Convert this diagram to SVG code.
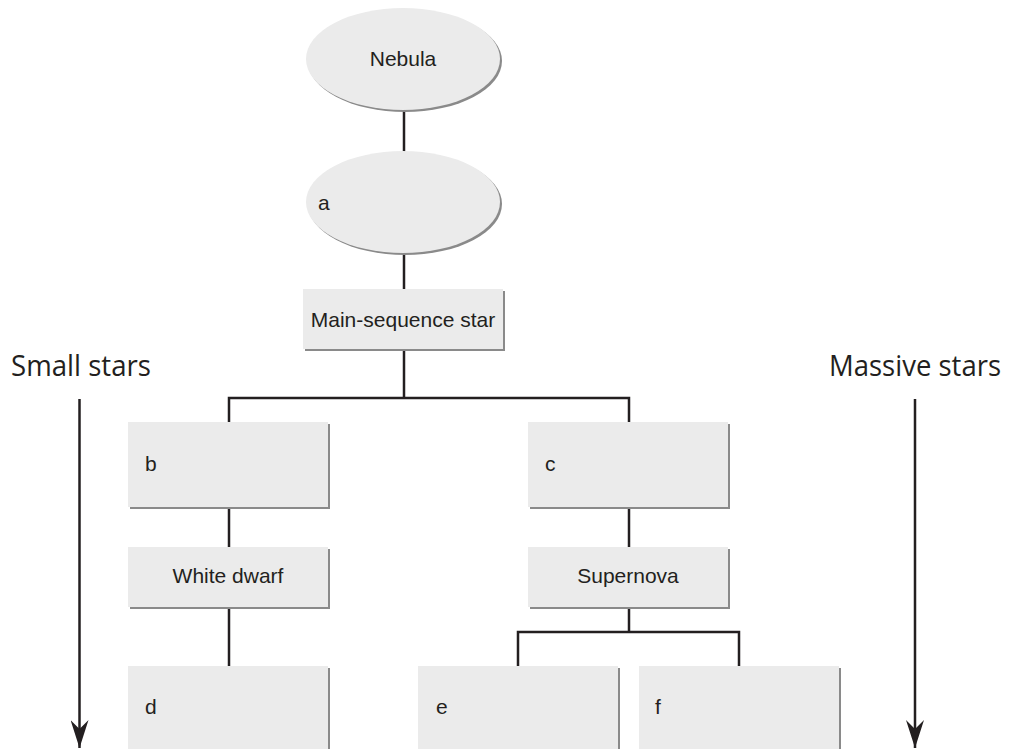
<svg xmlns="http://www.w3.org/2000/svg" width="1016" height="749" viewBox="0 0 1016 749">
<defs>
<style>
.sh{fill:#8a8a8a}
.nd{fill:#ebebeb}
.t{font-family:"Liberation Sans",Arial,sans-serif;font-size:21px;fill:#231f20}
.big{font-family:"Open Sans","Noto Sans",sans-serif;font-size:29px;fill:#231f20}
.ln{stroke:#231f20;stroke-width:2.5;fill:none}
</style>
<marker id="ah" markerWidth="28" markerHeight="18" viewBox="0 0 28 18" refX="28" refY="9" orient="auto" markerUnits="userSpaceOnUse">
<path d="M0,0 L28,9 L0,18 L9,9 Z" fill="#231f20"/>
</marker>
</defs>
<rect width="1016" height="749" fill="#fff"/>
<g id="connectors">
<line class="ln" x1="404" y1="108" x2="404" y2="154"/>
<line class="ln" x1="404" y1="250" x2="404" y2="290"/>
<polyline class="ln" points="404,348 404,398"/>
<polyline class="ln" points="229,423 229,398 629,398 629,423"/>
<line class="ln" x1="229" y1="506" x2="229" y2="548"/>
<line class="ln" x1="229" y1="606" x2="229" y2="666"/>
<line class="ln" x1="629" y1="506" x2="629" y2="548"/>
<polyline class="ln" points="629,606 629,632"/>
<polyline class="ln" points="518,666 518,632 739,632 739,666"/>
<line class="ln" x1="79.5" y1="399" x2="79.5" y2="748" marker-end="url(#ah)"/>
<line class="ln" x1="915" y1="399" x2="915" y2="748" marker-end="url(#ah)"/>
</g>
<g id="nebula">
<ellipse class="sh" cx="405" cy="61" rx="97" ry="51"/>
<ellipse class="nd" cx="403" cy="59" rx="97" ry="51"/>
<text class="t" x="403" y="66" text-anchor="middle">Nebula</text>
</g>
<g id="a">
<ellipse class="sh" cx="405" cy="204" rx="97" ry="51"/>
<ellipse class="nd" cx="403" cy="202" rx="97" ry="51"/>
<text class="t" x="318" y="210">a</text>
</g>
<g id="main-sequence">
<rect class="sh" x="305" y="291" width="200" height="60"/>
<rect class="nd" x="303" y="289" width="200" height="60"/>
<text class="t" x="403" y="327" text-anchor="middle">Main-sequence star</text>
</g>
<g id="small-label"><text class="big" x="11" y="376" textLength="140" lengthAdjust="spacingAndGlyphs">Small stars</text></g>
<g id="massive-label"><text class="big" x="829" y="376" textLength="172" lengthAdjust="spacingAndGlyphs">Massive stars</text></g>
<g id="b">
<rect class="sh" x="130" y="424" width="200" height="85"/>
<rect class="nd" x="128" y="422" width="200" height="85"/>
<text class="t" x="145" y="471">b</text>
</g>
<g id="c">
<rect class="sh" x="530" y="424" width="200" height="85"/>
<rect class="nd" x="528" y="422" width="200" height="85"/>
<text class="t" x="545" y="471">c</text>
</g>
<g id="white-dwarf">
<rect class="sh" x="130" y="549" width="200" height="60"/>
<rect class="nd" x="128" y="547" width="200" height="60"/>
<text class="t" x="228" y="583" text-anchor="middle">White dwarf</text>
</g>
<g id="supernova">
<rect class="sh" x="530" y="549" width="200" height="60"/>
<rect class="nd" x="528" y="547" width="200" height="60"/>
<text class="t" x="628" y="583" text-anchor="middle">Supernova</text>
</g>
<g id="d">
<rect class="sh" x="130" y="668" width="200" height="90"/>
<rect class="nd" x="128" y="666" width="200" height="90"/>
<text class="t" x="145" y="714">d</text>
</g>
<g id="e">
<rect class="sh" x="420" y="668" width="200" height="90"/>
<rect class="nd" x="418" y="666" width="200" height="90"/>
<text class="t" x="436" y="714">e</text>
</g>
<g id="f">
<rect class="sh" x="641" y="668" width="200" height="90"/>
<rect class="nd" x="639" y="666" width="200" height="90"/>
<text class="t" x="655" y="714">f</text>
</g>
</svg>
